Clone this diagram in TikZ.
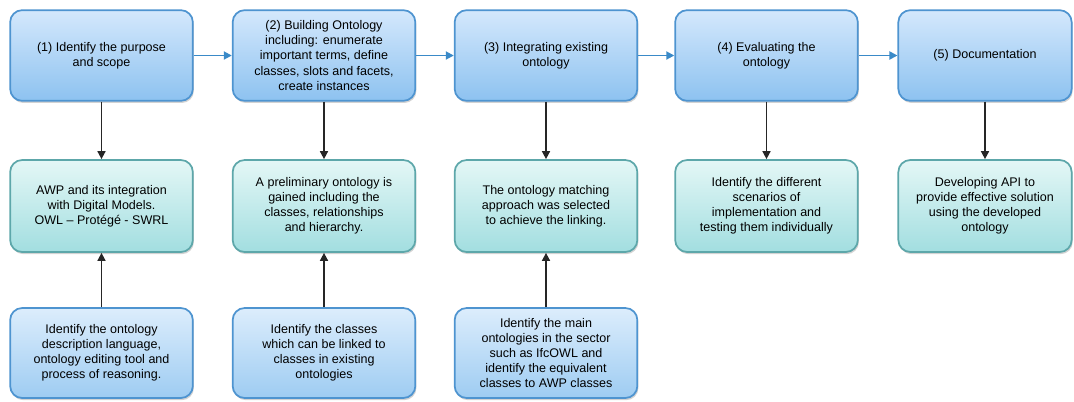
\documentclass[tikz,border=0pt]{standalone}
\usepackage{fontspec}
\setmainfont{Liberation Sans}
\usetikzlibrary{shadows,arrows.meta}
\definecolor{topA}{HTML}{D4E8FC}
\definecolor{topB}{HTML}{8DC2F0}
\definecolor{topE}{HTML}{4E94D0}
\definecolor{midA}{HTML}{E4F7F6}
\definecolor{midB}{HTML}{A2DEE0}
\definecolor{midE}{HTML}{5DA7AA}
\definecolor{botA}{HTML}{DCEDFC}
\definecolor{botB}{HTML}{9ECCF2}
\definecolor{flowc}{HTML}{3A8AC8}
\tikzset{
  basebox/.style={rectangle, rounded corners=9pt, line width=1.3pt, align=center,
    font=\fontsize{9.4}{11.3}\selectfont, inner sep=1pt,
    drop shadow={opacity=0.35, shadow xshift=0.8pt, shadow yshift=-1.6pt}},
  stepbox/.style={basebox, draw=topE, top color=topA, bottom color=topB,
    minimum width=137pt, minimum height=68pt},
  resbox/.style={basebox, draw=midE, top color=midA, bottom color=midB,
    minimum width=137pt, minimum height=69pt},
  inbox/.style={basebox, draw=topE, top color=botA, bottom color=botB,
    minimum width=137pt, minimum height=67.5pt},
  flow/.style={draw=flowc, line width=1.4pt, -{Triangle[length=6pt,width=6pt]}},
  vert/.style={draw=black!85, line width=1.2pt, -{Triangle[length=6pt,width=6pt]}}
}
\begin{document}
\begin{tikzpicture}[x=0.75pt,y=-0.75pt]
\useasboundingbox (0,0) rectangle (1074,401);
% top row
\node[stepbox] (s1) at (101.5,55.5) {(1) Identify the purpose\\and scope};
\node[stepbox] (s2) at (324,55.5) {(2) Building Ontology\\including: enumerate\\important terms, define\\classes, slots and facets,\\create instances};
\node[stepbox] (s3) at (546,55.5) {(3) Integrating existing\\ontology};
\node[stepbox] (s4) at (766.5,55.5) {(4) Evaluating the\\ontology};
\node[stepbox, minimum width=130pt] (s5) at (985,55.5) {(5) Documentation};
% middle row
\node[resbox] (r1) at (101.5,206) {AWP and its integration\\with Digital Models.\\OWL -- Protégé - SWRL};
\node[resbox] (r2) at (324,206) {A preliminary ontology is\\gained including the\\classes, relationships\\and hierarchy.};
\node[resbox] (r3) at (546,206) {The ontology matching\\approach was selected\\to achieve the linking.};
\node[resbox] (r4) at (766.5,206) {Identify the different\\scenarios of\\implementation  and\\testing them individually};
\node[resbox, minimum width=130pt] (r5) at (985,206) {Developing  API to\\provide effective solution\\using the developed\\ontology};
% bottom row
\node[inbox] (b1) at (101.5,353) {Identify the ontology\\description language,\\ontology editing tool and\\process of reasoning.};
\node[inbox] (b2) at (324,353) {Identify the classes\\which can be linked to\\classes in existing\\ontologies};
\node[inbox] (b3) at (546,353) {Identify the main\\ontologies in the sector\\such as IfcOWL and\\identify the equivalent\\classes to AWP classes};
% horizontal flow
\draw[flow] (s1) -- (s2);
\draw[flow] (s2) -- (s3);
\draw[flow] (s3) -- (s4);
\draw[flow] (s4) -- (s5);
% vertical arrows
\foreach \i in {1,...,5} {\draw[vert] (s\i) -- (r\i);}
\foreach \i in {1,2,3} {\draw[vert] (b\i) -- (r\i);}
\end{tikzpicture}
\end{document}
